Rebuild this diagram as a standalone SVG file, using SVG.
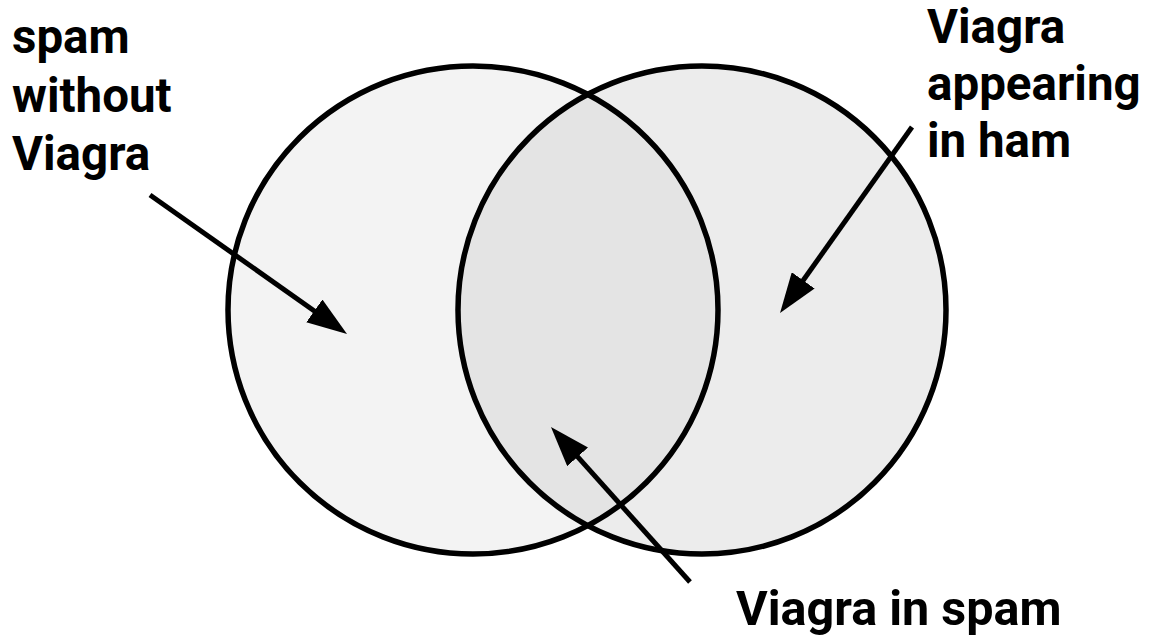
<svg xmlns="http://www.w3.org/2000/svg" width="1152" height="640" viewBox="0 0 1152 640">
<style>
.lbl{font-family:Roboto,"Liberation Sans",sans-serif;font-weight:bold;font-size:47.5px;fill:#000}
.ring{stroke:#000;stroke-width:5.5;fill:none}
.arr{stroke:#000;stroke-width:5;fill:none;marker-end:url(#ah)}
</style>
<defs>
<marker id="ah" markerUnits="userSpaceOnUse" markerWidth="40" markerHeight="28" refX="10" refY="14" orient="auto" viewBox="0 0 40 28">
<path d="M0,0 L40,14 L0,28 z" fill="#000"/>
</marker>
<clipPath id="clipL"><ellipse cx="473" cy="310" rx="245" ry="244"/></clipPath>
</defs>
<rect width="1152" height="640" fill="#fff"/>
<g id="spam-circle">
<ellipse cx="473" cy="310" rx="245" ry="244" fill="#f3f3f3"/>
</g>
<g id="ham-circle">
<ellipse cx="702" cy="310" rx="244" ry="244" fill="#ececec"/>
</g>
<g id="intersection">
<ellipse cx="702" cy="310" rx="244" ry="244" fill="#e4e4e4" clip-path="url(#clipL)"/>
</g>
<g id="outlines">
<ellipse class="ring" cx="473" cy="310" rx="245" ry="244"/>
<ellipse class="ring" cx="702" cy="310" rx="244" ry="244"/>
</g>
<g id="connectors">
<line class="arr" x1="150" y1="195" x2="322.5" y2="316.7"/>
<line class="arr" x1="912" y1="127" x2="797.4" y2="288.5"/>
<line class="arr" x1="690" y1="582" x2="571" y2="449.4"/>
</g>
<g id="label-spam-without">
<text class="lbl" x="12" y="53">spam</text>
<text class="lbl" x="12" y="112">without</text>
<text class="lbl" x="12" y="170">Viagra</text>
</g>
<g id="label-ham">
<text class="lbl" x="927" y="43">Viagra</text>
<text class="lbl" x="927" y="100">appearing</text>
<text class="lbl" x="927" y="157">in ham</text>
</g>
<g id="label-spam">
<text class="lbl" x="736" y="625" style="font-size:48.5px">Viagra in spam</text>
</g>
</svg>
